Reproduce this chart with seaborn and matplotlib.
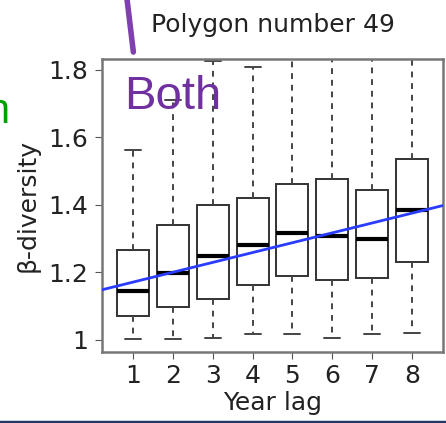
import pandas as pd
import numpy as np
import matplotlib.pyplot as plt
import seaborn as sns

sns.set_style('ticks')
plt.rcParams['font.family'] = ['DejaVu Sans']

# values: whisker ends, quartiles and medians per year lag
lags = [1, 2, 3, 4, 5, 6, 7, 8]
low = [1.002, 1.002, 1.005, 1.017, 1.017, 1.005, 1.017, 1.020]
q1 = [1.071, 1.096, 1.121, 1.161, 1.188, 1.178, 1.182, 1.232]
median = [1.145, 1.198, 1.247, 1.280, 1.316, 1.309, 1.299, 1.385]
q3 = [1.267, 1.341, 1.400, 1.420, 1.462, 1.476, 1.444, 1.535]
high = [1.563, 1.711, 1.825, 1.808, 1.900, 1.900, 1.900, 1.900]

# fitted trend line (value at lag 1 and slope per lag)
fit_at_lag1 = 1.171
fit_slope = 0.0292

rows = []
for i, lag in enumerate(lags):
    for v in [low[i], q1[i], median[i], q3[i], high[i]]:
        rows.append({'lag': lag, 'beta': v})
df = pd.DataFrame(rows)

fig = plt.figure(figsize=(4.46, 4.23), dpi=100)
ax = fig.add_axes([0.229, 0.168, 0.764, 0.693])

sns.boxplot(data=df, x='lag', y='beta', ax=ax, whis=(0, 100), width=0.8,
            color='white', linecolor='#333333', linewidth=1.4, fliersize=0,
            whiskerprops={'linestyle': (0, (3, 3)), 'color': '#444444'},
            capprops={'color': '#444444'},
            medianprops={'color': 'black', 'linewidth': 3})

# regression line across the whole panel
ax.axline((0, fit_at_lag1), slope=fit_slope, color='#2a3cff', lw=2, zorder=5)

ax.set_xlim(-0.775, 7.775)
ax.set_ylim(0.964, 1.833)
ax.set_yticks([1.0, 1.2, 1.4, 1.6, 1.8])
ax.set_yticklabels(['1', '1.2', '1.4', '1.6', '1.8'])
ax.tick_params(labelsize=18, length=5, color='#555555', labelcolor='#222222')
ax.tick_params(axis='y', pad=5)
ax.tick_params(axis='x', pad=4)
for s in ax.spines.values():
    s.set_color('#777777')
    s.set_linewidth(1.8)

ax.set_title('Polygon number 49', fontsize=18, pad=19, color='#222222')
ax.set_xlabel('Year lag', fontsize=18, labelpad=2, color='#222222')
ax.set_ylabel('β-diversity', fontsize=18, labelpad=6, color='#222222')

# slide overlay bits
ax.text(0.065, 0.945, 'Both', transform=ax.transAxes, color='#7030a0',
        fontsize=34, family='Liberation Sans', va='top', ha='left')
fig.add_artist(plt.Line2D([0.285, 0.299], [1.0, 0.877], color='#8040b0', lw=4))
fig.text(-0.03, 0.71, 'n', color='#00a000', fontsize=30, family='Liberation Sans')
fig.add_artist(plt.Line2D([0, 1], [0.003, 0.003], color='#1f3864', lw=2.5))

fig.savefig('out.png', dpi=100)
